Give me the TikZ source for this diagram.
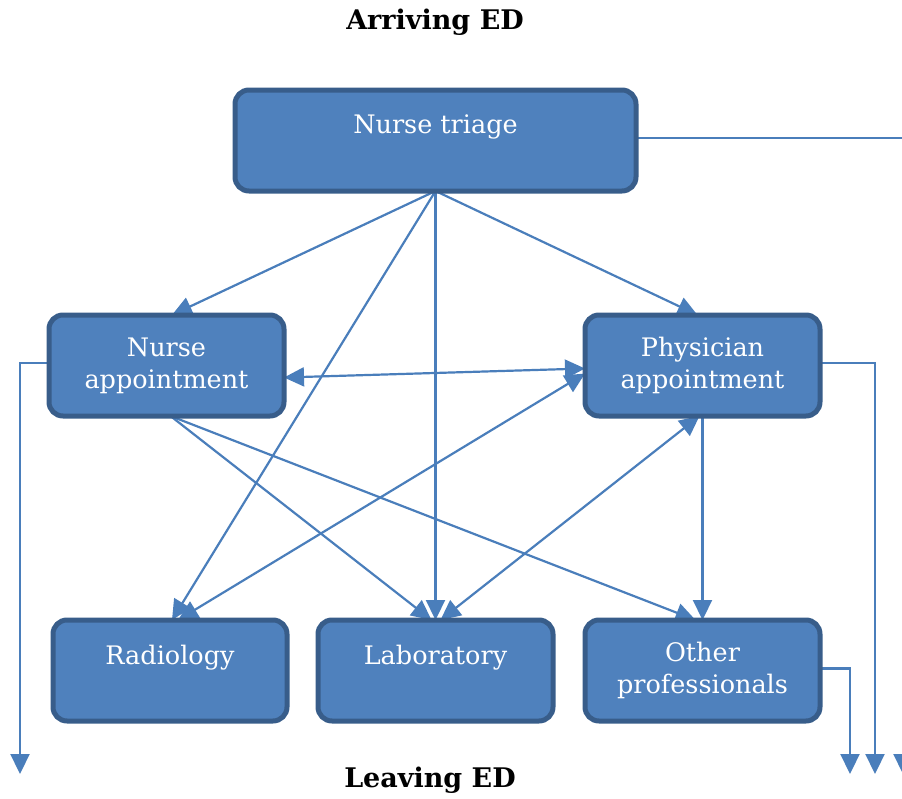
\documentclass[tikz,border=0pt]{standalone}
\usepackage{fontspec}
\setmainfont{DejaVu Serif}
\usetikzlibrary{arrows.meta,calc,backgrounds}
\definecolor{boxfill}{RGB}{79,129,189}
\definecolor{boxedge}{RGB}{56,93,138}
\definecolor{linkcol}{RGB}{74,126,187}
\tikzset{
  x=1pt, y=-1pt,
  procbox/.style={draw=boxedge, fill=boxfill, line width=5pt, rounded corners=14pt,
    minimum height=101pt, inner sep=0pt, outer sep=0pt, align=center, text=white,
    font=\fontsize{25.5}{32}\selectfont},
  link/.style={draw=linkcol, line width=2.2pt, -{Triangle[length=20pt,width=19pt]}},
  duallink/.style={draw=linkcol, line width=2.2pt, {Triangle[length=20pt,width=19pt]}-{Triangle[length=20pt,width=19pt]}},
  title/.style={font=\bfseries\fontsize{27}{32}\selectfont, inner sep=0pt}
}
\begin{document}
\begin{tikzpicture}
\useasboundingbox (0,0) rectangle (902,798);
\clip (0,0) rectangle (902,798);
\node[title] (arr) at (435,22) {Arriving ED};
\node[title] (lev) at (430,780) {Leaving ED};
\node[procbox, minimum width=401pt] (nt) at (435.5,140.5) {Nurse triage\\\mbox{}};
\node[procbox, minimum width=235pt] (na) at (166.5,365.5) {Nurse\\appointment};
\node[procbox, minimum width=235pt] (pa) at (702.5,365.5) {Physician\\appointment};
\node[procbox, minimum width=234pt] (rad) at (170,670.5) {Radiology\\\mbox{}};
\node[procbox, minimum width=235pt] (lab) at (435.5,670.5) {Laboratory\\\mbox{}};
\node[procbox, minimum width=235pt] (oth) at (702.5,670.5) {Other\\professionals};
\coordinate (exL) at (20,774);
\coordinate (exP) at (875,774);
\coordinate (exO) at (850,774);
\coordinate (exT) at (903,774);
\begin{scope}[on background layer]
\draw[link] (nt.south) -- ($(na.north)+(5.5,0)$);
\draw[link] (nt.south) -- ($(pa.north)+(-5,0)$);
\draw[link] (nt.south) -- ($(rad.north)+(2,0)$);
\draw[link] (nt.south) -- (lab.north);
\draw[link] ($(na.south)+(4,0)$) -- ($(lab.north)+(-4,0)$);
\draw[link] ($(na.south)+(4,0)$) -- ($(oth.north)+(-7,0)$);
\draw[link] (pa.south) -- (oth.north);
\draw[duallink] ($(lab.north)+(5,0)$) -- ($(pa.south)+(-3,0)$);
\draw[duallink] ($(na.east)+(0,12)$) -- ($(pa.west)+(0,3)$);
\draw[duallink] ($(rad.north)+(8,0)$) -- ($(pa.west)+(0,8)$);
\draw[link] ($(nt.east)+(0,-2.5)$) -| (exT);
\draw[link] ($(na.west)+(0,-2.5)$) -| (exL);
\draw[link] ($(pa.east)+(0,-2.5)$) -| (exP);
\draw[link] ($(oth.east)+(0,-2)$) -| (exO);
\end{scope}
\end{tikzpicture}
\end{document}
